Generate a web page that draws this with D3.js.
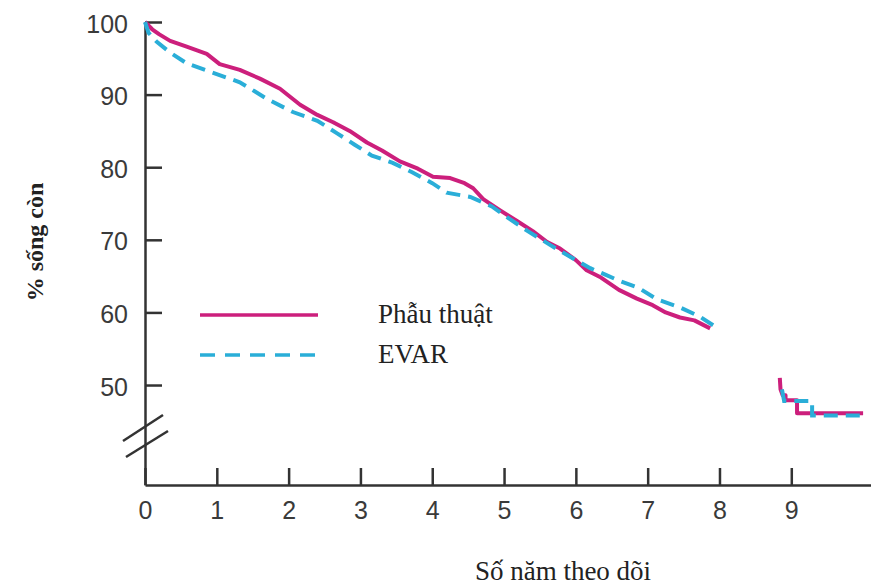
<!DOCTYPE html>
<html>
<head>
<meta charset="utf-8">
<script src="https://cdn.jsdelivr.net/npm/d3@7"></script>
<style>
  body { margin: 0; background: #fff; }
  svg { display: block; }
</style>
</head>
<body>
<svg id="chart"></svg>
<script>
// Constants
const width = 871;
const height = 586;

// Data (years of follow-up, % survival)
const surgeryMain = [
  [0, 100], [0.1, 99.0], [0.2, 98.3], [0.35, 97.4], [0.58, 96.6], [0.86, 95.6],
  [1.04, 94.2], [1.32, 93.4], [1.6, 92.2], [1.88, 90.8], [2.16, 88.6], [2.4, 87.2],
  [2.62, 86.2], [2.85, 85.0], [3.09, 83.4], [3.3, 82.3], [3.55, 80.8], [3.8, 79.8],
  [4.01, 78.7], [4.25, 78.5], [4.45, 77.8], [4.57, 77.1], [4.71, 75.6], [4.94, 74.1],
  [5.18, 72.6], [5.4, 71.2], [5.6, 69.7], [5.78, 68.8], [6.0, 67.2], [6.15, 65.8],
  [6.35, 64.8], [6.6, 63.1], [6.85, 61.9], [7.07, 61.0], [7.25, 60.0], [7.45, 59.3],
  [7.65, 58.9], [7.87, 57.8]
];
const surgeryTail = [
  [8.84, 51.0], [8.85, 49.4], [8.88, 48.6], [8.92, 48.6], [8.92, 47.9],
  [9.08, 47.9], [9.08, 46.1], [10.0, 46.1]
];
const evarMain = [
  [0, 100], [0.05, 98.5], [0.16, 97.3], [0.35, 95.8], [0.58, 94.3], [0.95, 93.0],
  [1.32, 91.7], [1.7, 89.4], [2.06, 87.6], [2.4, 86.4], [2.67, 84.7], [2.92, 83.1],
  [3.16, 81.6], [3.45, 80.6], [3.72, 79.3], [4.0, 77.8], [4.2, 76.5], [4.53, 75.9],
  [4.83, 74.6], [5.06, 73.0], [5.33, 71.2], [5.64, 69.3], [5.95, 67.5], [6.2, 66.1],
  [6.41, 65.2], [6.62, 64.3], [6.87, 63.4], [7.13, 61.8], [7.45, 60.7], [7.73, 59.4],
  [7.98, 57.8]
];
const evarTail = [
  [8.87, 49.4], [8.9, 47.8], [9.29, 47.8], [9.29, 45.8], [9.97, 45.8]
];
const xTicks = [0, 1, 2, 3, 4, 5, 6, 7, 8, 9];
const yTicks = [50, 60, 70, 80, 90, 100];
const seriesNames = ["Phẫu thuật", "EVAR"];
const seriesColors = ["#cc1f7c", "#2aaed8"];

const svg = d3.select("#chart")
  .attr("width", width)
  .attr("height", height);

// Scales
const x = d3.scaleLinear().domain([0, 10.11]).range([145, 871]);
const y = d3.scaleLinear().domain([36.23, 100]).range([485, 22]);

// Axes
const axisColor = "#333";
const tickFont = "'Liberation Sans', Arial, sans-serif";

const yAxis = svg.append("g")
  .attr("transform", `translate(${x(0)},0)`)
  .call(d3.axisLeft(y).tickValues(yTicks).tickSizeInner(-17).tickSizeOuter(0).tickPadding(17));

const xAxis = svg.append("g")
  .attr("transform", `translate(0,${y.range()[0]})`)
  .call(d3.axisBottom(x).tickValues(xTicks).tickSizeInner(-17).tickSizeOuter(0).tickPadding(16));

[xAxis, yAxis].forEach((g) => {
  g.selectAll("path, line").attr("stroke", axisColor).attr("stroke-width", 2.5);
  g.selectAll("text")
    .attr("fill", "#3a3a3a")
    .style("font-family", tickFont)
    .style("font-size", "25px");
});
yAxis.selectAll("text").attr("dy", "0.4em");

// Axis break marks
const by = y(43.4);
[[-4, 40, 0], [12, 42, 3]].forEach(([a, len, dx]) => {
  svg.append("line")
    .attr("x1", x(0) - 22 + dx).attr("y1", by + a + 12)
    .attr("x2", x(0) - 22 + dx + len).attr("y2", by + a - 14)
    .attr("stroke", axisColor).attr("stroke-width", 2.5);
});

// Lines
const line = d3.line().x((d) => x(d[0])).y((d) => y(d[1]));

[surgeryMain, surgeryTail].forEach((data) => {
  svg.append("path")
    .attr("d", line(data))
    .attr("fill", "none")
    .attr("stroke", seriesColors[0])
    .attr("stroke-width", 4)
    .attr("stroke-linejoin", "round");
});

[evarMain, evarTail].forEach((data) => {
  svg.append("path")
    .attr("d", line(data))
    .attr("fill", "none")
    .attr("stroke", seriesColors[1])
    .attr("stroke-width", 4)
    .attr("stroke-dasharray", "14,8");
});

// Legend
const serif = "'Liberation Serif', 'Times New Roman', serif";
const legend = svg.append("g");
seriesNames.forEach((name, i) => {
  const ly = 315 + i * 40;
  legend.append("line")
    .attr("x1", 200).attr("x2", 318)
    .attr("y1", ly).attr("y2", ly)
    .attr("stroke", seriesColors[i])
    .attr("stroke-width", 3.5)
    .attr("stroke-dasharray", i === 1 ? "15,10" : null);
  legend.append("text")
    .attr("x", 378).attr("y", ly + 8)
    .text(name)
    .attr("fill", "#222")
    .style("font-family", serif)
    .style("font-size", "27px");
});

// Axis titles
svg.append("text")
  .attr("transform", "translate(43,242) rotate(-90)")
  .attr("text-anchor", "middle")
  .text("% sống còn")
  .attr("fill", "#222")
  .style("font-family", serif)
  .style("font-weight", "bold")
  .style("font-size", "24px");

svg.append("text")
  .attr("x", 563).attr("y", 580)
  .attr("text-anchor", "middle")
  .text("Số năm theo dõi")
  .attr("fill", "#222")
  .style("font-family", serif)
  .style("font-size", "27px");
</script>
</body>
</html>
